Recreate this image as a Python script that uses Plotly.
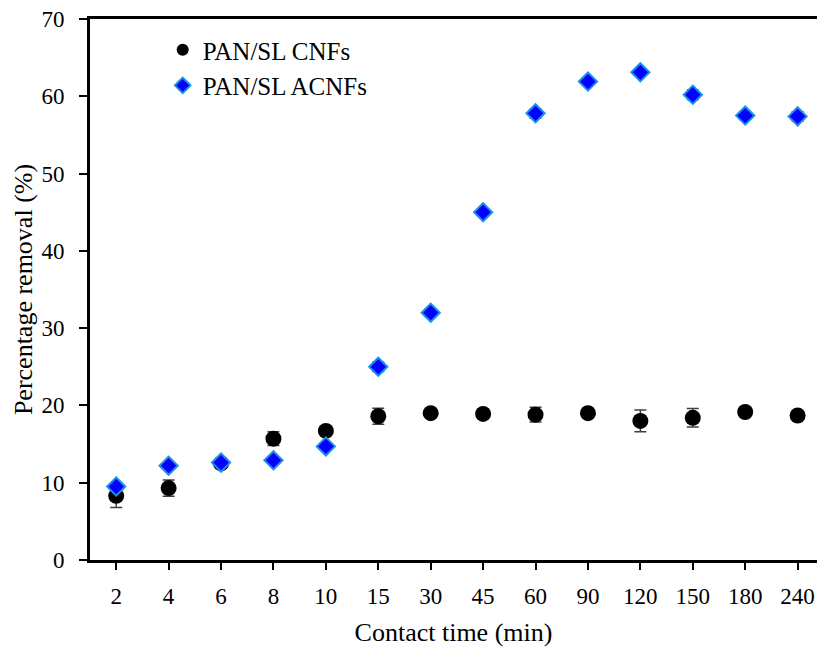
import plotly.graph_objects as go

categories = ["2", "4", "6", "8", "10", "15", "30", "45", "60", "90", "120", "150", "180", "240"]
cnf_values = [8.3, 9.3, 12.5, 15.7, 16.7, 18.6, 19.0, 18.9, 18.8, 19.0, 18.0, 18.4, 19.15, 18.7]
cnf_errors = [1.5, 1.05, 0.4, 0.9, 0.4, 1.05, 0.3, 0.4, 0.95, 0.3, 1.4, 1.2, 0.3, 0.3]
acnf_values = [9.5, 12.2, 12.6, 12.9, 14.7, 25.0, 32.0, 45.0, 57.8, 61.9, 63.1, 60.2, 57.5, 57.4]
acnf_errors = [0.3, 0.3, 0.3, 0.3, 0.4, 0.6, 0.5, 0.4, 0.6, 0.3, 0.3, 0.6, 0.5, 0.6]

font_family = "Liberation Serif, Times New Roman, serif"

fig = go.Figure()
fig.add_trace(go.Scatter(
    x=categories, y=cnf_values, mode="markers", name="PAN/SL CNFs",
    marker=dict(symbol="circle", size=16, color="black"),
    error_y=dict(type="data", array=cnf_errors, visible=True, color="#404040", thickness=1.5, width=6),
))
fig.add_trace(go.Scatter(
    x=categories, y=acnf_values, mode="markers", name="PAN/SL ACNFs",
    marker=dict(symbol="diamond", size=14, color="#0000FF", line=dict(color="#1E8FE8", width=2)),
    error_y=dict(type="data", array=acnf_errors, visible=True, color="#404040", thickness=1.5, width=6),
))

fig.update_layout(
    width=817, height=650,
    margin=dict(l=90, r=0, t=19, b=90),
    plot_bgcolor="white", paper_bgcolor="white",
    font=dict(family=font_family, size=23, color="black"),
    showlegend=True,
    legend=dict(x=0.1, y=0.985, xanchor="left", yanchor="top", bgcolor="rgba(0,0,0,0)",
                font=dict(size=25), itemsizing="constant", tracegroupgap=0, itemwidth=30),
    xaxis=dict(
        type="category", range=[-0.5, 13.37],
        showline=True, linecolor="black", linewidth=3, mirror=True,
        ticks="outside", ticklen=7, tickwidth=2, tickcolor="black",
        showgrid=False, zeroline=False,
        title=dict(text="Contact time (min)", font=dict(size=26), standoff=16),
        tickfont=dict(size=23), ticklabelstandoff=6,
    ),
    yaxis=dict(
        range=[0, 70], dtick=10,
        showline=True, linecolor="black", linewidth=3,
        ticks="outside", ticklen=8, tickwidth=2, tickcolor="black",
        showgrid=False, zeroline=False,
        title=dict(text="Percentage removal (%)", font=dict(size=26), standoff=2),
        tickfont=dict(size=23), ticklabelstandoff=10,
    ),
)

fig.write_html("out.html")
